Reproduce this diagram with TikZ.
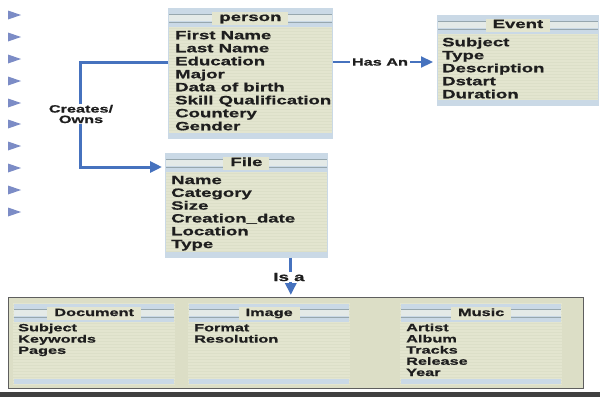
\documentclass[tikz,border=0pt]{standalone}
\usepackage{fontspec}
\setmainfont{Liberation Sans}
\newfontfamily\wide{Liberation Sans}[FakeStretch=1.55,FakeBold=0.8]
\usetikzlibrary{arrows.meta,calc}

\definecolor{boxfill}{HTML}{E3E5CF}
\definecolor{bigfill}{HTML}{DCDEC6}
\definecolor{hdrblue}{HTML}{CAD9E6}
\definecolor{hdrpale}{HTML}{E4EAE8}
\definecolor{hdrline}{HTML}{97A7AE}
\definecolor{stripe}{HTML}{DCDFC8}
\definecolor{connblue}{HTML}{4672BE}
\definecolor{bulletblue}{HTML}{7C8CC6}
\definecolor{ink}{HTML}{1E1E1E}
\definecolor{frame}{HTML}{5E5E5E}

\tikzset{
  striped/.style={path picture={
      \foreach \k in {2,5,...,140}
        \draw[stripe,line width=0.3pt]
          ([yshift=-\k pt]path picture bounding box.north west) --
          ([yshift=-\k pt]path picture bounding box.north east);}},
  entity/.style={draw=hdrblue, line width=0.8pt, fill=boxfill, inner sep=0pt,
    anchor=north west, striped},
  panel/.style={fill=boxfill, inner sep=0pt, anchor=north west, striped},
  bigbox/.style={draw=frame, line width=1.4pt, fill=bigfill, inner sep=0pt,
    anchor=north west},
  rowbig/.style={anchor=west, inner sep=0pt, text=ink, text height=9pt, text depth=2.5pt,
    font=\wide\bfseries\fontsize{12}{14}\selectfont},
  rowsmall/.style={anchor=west, inner sep=0pt, text=ink, text height=8pt, text depth=2pt,
    font=\wide\bfseries\fontsize{10.5}{12}\selectfont},
  titlebg/.style={fill=boxfill, inner xsep=7pt, inner ysep=1pt, text=ink,
    text height=8.5pt, text depth=2.5pt},
  lbl/.style={fill=white, inner xsep=1.5pt, inner ysep=1pt, text=ink, align=center,
    font=\wide\bfseries\fontsize{10.5}{10.5}\selectfont},
  conn/.style={draw=connblue, line width=3pt,
    -{Triangle[length=12pt,width=11pt]}},
}

% striped header band with a title, plus the pale blue strip at the foot
\newcommand\tableframe[3]{%
  \fill[hdrblue] ([xshift=1pt,yshift=-1pt]#1.north west) rectangle ([xshift=-1pt,yshift=-19pt]#1.north east);
  \fill[hdrpale] ([xshift=1pt,yshift=-7pt]#1.north west) rectangle ([xshift=-1pt,yshift=-13pt]#1.north east);
  \foreach \d in {6,14}
    \draw[hdrline,line width=0.9pt] ([xshift=1pt,yshift=-\d pt]#1.north west) -- ([xshift=-1pt,yshift=-\d pt]#1.north east);
  \fill[hdrblue] ([xshift=1pt,yshift=6pt]#1.south west) rectangle ([xshift=-1pt,yshift=1pt]#1.south east);
  \node[titlebg, font=#3] (#1-title) at ([yshift=-10pt]#1.north) {#2};
}

\begin{document}
\begin{tikzpicture}[x=1pt,y=-1pt]
\useasboundingbox (0,0) rectangle (600,397);
\fill[white] (0,0) rectangle (600,397);

% bullet column on the left
\foreach \yy in {15,37,59,81,103,124,146,168,190,212}
  \fill[bulletblue] (8,{\yy-4.5}) -- (21,\yy) -- (8,{\yy+4.5}) -- cycle;

% person
\node[entity, minimum width=164pt, minimum height=130pt] (person) at (168,8) {};
\tableframe{person}{person}{\wide\bfseries\fontsize{12}{14}\selectfont}
\foreach \t [count=\i] in {First Name, Last Name, Education, Major, Data of birth,
    Skill Qualification, Countery, Gender}
  \node[rowbig] (p\i) at (175,{23+13*\i}) {\t};

% Event
\node[entity, minimum width=161pt, minimum height=90pt] (event) at (437,15) {};
\tableframe{event}{Event}{\wide\bfseries\fontsize{12}{14}\selectfont}
\foreach \t [count=\i] in {Subject, Type, Description, Dstart, Duration}
  \node[rowbig] (e\i) at (442,{30+13*\i}) {\t};

% File
\node[entity, minimum width=162pt, minimum height=104pt] (file) at (165,153) {};
\tableframe{file}{File}{\wide\bfseries\fontsize{12}{14}\selectfont}
\foreach \t [count=\i] in {Name, Category, Size, Creation\_date, Location, Type}
  \node[rowbig] (f\i) at (171,{168+12.8*\i}) {\t};

% specialisations of File
\node[bigbox, minimum width=575pt, minimum height=91pt] (kinds) at (8,297) {};

\node[panel, minimum width=162pt, minimum height=82pt] (doc) at (13,303) {};
\tableframe{doc}{Document}{\wide\bfseries\fontsize{10.5}{12}\selectfont}
\foreach \t [count=\i] in {Subject, Keywords, Pages}
  \node[rowsmall] (d\i) at (18,{317+11.3*\i}) {\t};

\node[panel, minimum width=162pt, minimum height=82pt] (img) at (188,303) {};
\tableframe{img}{Image}{\wide\bfseries\fontsize{10.5}{12}\selectfont}
\foreach \t [count=\i] in {Format, Resolution}
  \node[rowsmall] (i\i) at (194,{317+11.3*\i}) {\t};

\node[panel, minimum width=162pt, minimum height=82pt] (music) at (400,303) {};
\tableframe{music}{Music}{\wide\bfseries\fontsize{10.5}{12}\selectfont}
\foreach \t [count=\i] in {Artist, Album, Tracks, Release, Year}
  \node[rowsmall] (m\i) at (406,{317+11.2*\i}) {\t};

% dark rule along the foot
\fill[black!75] (0,392) rectangle (600,397);

% connectors
\coordinate (ownsBend) at (80,62);
\coordinate (fileIn) at ($(file.north west)+(0,14)$);
\draw[conn, shorten >=3pt] (person.west |- p3) -- (ownsBend) |- (fileIn);
\node[lbl] (owns) at (81,114) {Creates/\\Owns};

\draw[conn, line width=2.2pt, shorten >=4pt] (person.east |- p3) -- (event.west |- p3);
\node[lbl] (hasan) at (380,62) {Has An};

\coordinate (isaTop) at ($(file.south east)+(-37,0)$);
\draw[conn, shorten >=2pt] (isaTop) -- (isaTop |- kinds.north);
\node[lbl, font=\wide\bfseries\fontsize{12}{12}\selectfont] (isa) at (289,277) {Is a};
\end{tikzpicture}
\end{document}
